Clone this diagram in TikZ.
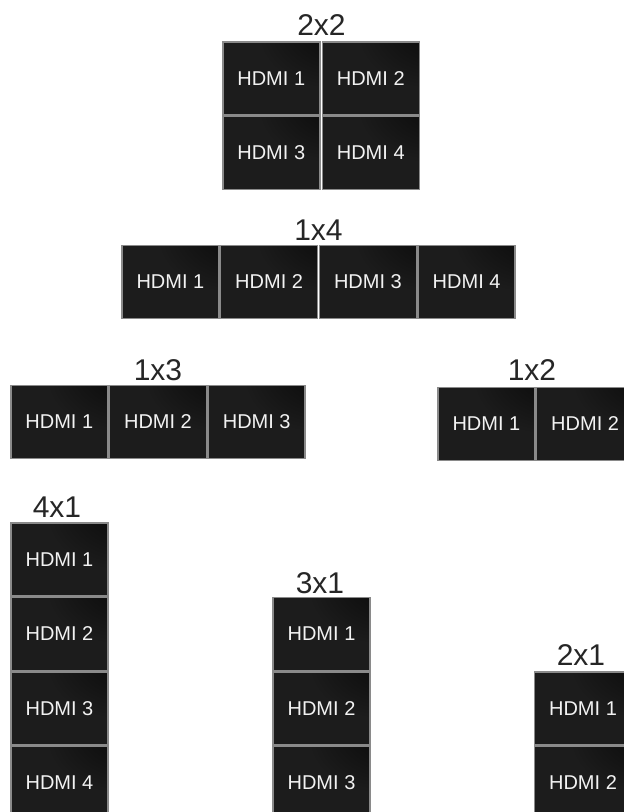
\documentclass[tikz,border=0pt]{standalone}
\usepackage{fontspec}
\setmainfont{Liberation Sans}
\usepackage{xcolor}
\usepackage{tikz}
\usetikzlibrary{positioning, shapes, calc}

\definecolor{tilegray}{HTML}{1C1C1C}
\definecolor{tileedge}{HTML}{8A8A8A}
\definecolor{headtext}{HTML}{262626}
\definecolor{tiletext}{HTML}{F2F2F2}

% dark corner top right of every screen
\pgfdeclareradialshading{tilecorner}{\pgfpoint{50bp}{50bp}}{color(0bp)=(black); color(38bp)=(tilegray); color(100bp)=(tilegray)}

\tikzset{
  tile/.style={draw=tileedge, line width=1.5pt, shade, shading=tilecorner,
    minimum width=97pt, minimum height=73pt, inner sep=0pt,
    text=tiletext, font=\fontsize{20}{24}\selectfont},
  head/.style={anchor=base, inner sep=0pt, text=headtext, font=\fontsize{30}{36}\selectfont}
}

\begin{document}
\begin{tikzpicture}[x=1pt, y=-1pt]
      \useasboundingbox (0,0) rectangle (624,812);

      % 2x2
      \node[head] (h22) at (321.5, 35) {2x2};
      \node[tile] (q1) at (271.25, 78.25) {HDMI 1};
      \node[tile] (q2) at (370.75, 78.25) {HDMI 2};
      \node[tile] (q3) at (271.25, 152.75) {HDMI 3};
      \node[tile] (q4) at (370.75, 152.75) {HDMI 4};

      % 1x4
      \node[head] (h14) at (318.5, 240) {1x4};
      \node[tile] (r1) at (170.4, 282) {HDMI 1};
      \node[tile] (r2) at (269.1, 282) {HDMI 2};
      \node[tile] (r3) at (367.9, 282) {HDMI 3};
      \node[tile] (r4) at (466.6, 282) {HDMI 4};

      % 1x3
      \node[head] (h13) at (158, 380) {1x3};
      \node[tile] (s1) at (59.3, 422) {HDMI 1};
      \node[tile] (s2) at (158, 422) {HDMI 2};
      \node[tile] (s3) at (256.7, 422) {HDMI 3};

      % 1x2
      \node[head] (h12) at (532, 380) {1x2};
      \node[tile] (p1) at (486.4, 424) {HDMI 1};
      \node[tile] (p2) at (585.1, 424) {HDMI 2};

      % 4x1
      \node[head] (h41) at (57, 517) {4x1};
      \node[tile] (c1) at (59.5, 559.5) {HDMI 1};
      \node[tile] (c2) at (59.5, 634) {HDMI 2};
      \node[tile] (c3) at (59.5, 708.5) {HDMI 3};
      \node[tile] (c4) at (59.5, 783) {HDMI 4};

      % 3x1
      \node[head] (h31) at (320, 593) {3x1};
      \node[tile] (d1) at (321.5, 634) {HDMI 1};
      \node[tile] (d2) at (321.5, 708.5) {HDMI 2};
      \node[tile] (d3) at (321.5, 783) {HDMI 3};

      % 2x1
      \node[head] (h21) at (581, 665) {2x1};
      \node[tile] (e1) at (583, 708.5) {HDMI 1};
      \node[tile] (e2) at (583, 783) {HDMI 2};
\end{tikzpicture}
\end{document}
